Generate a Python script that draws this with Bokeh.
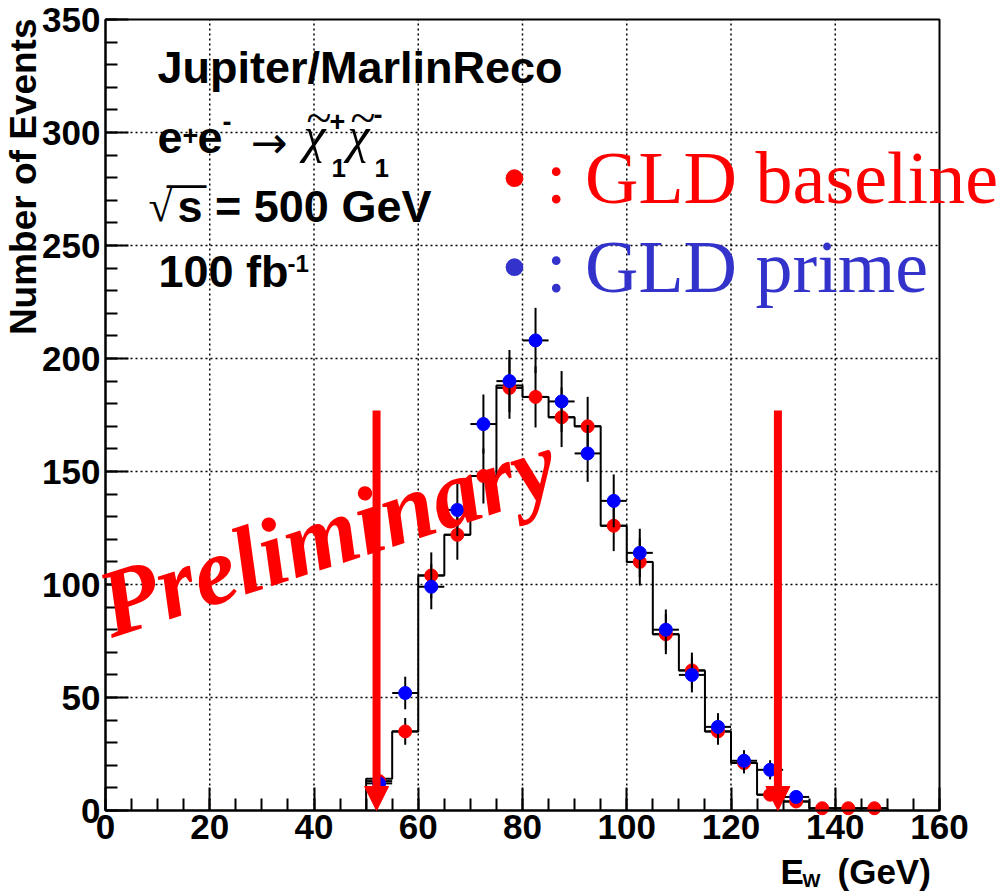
import numpy as np
from bokeh.plotting import figure
from bokeh.models import Label, Arrow, NormalHead, SingleIntervalTicker, Range1d, ColumnDataSource
from bokeh.embed import file_html
from bokeh.resources import INLINE

# ---------------- data ----------------
bin_edges = [50, 55, 60, 65, 70, 75, 80, 85, 90, 95, 100, 105, 110, 115, 120, 125, 130, 135, 140, 145, 150]
bin_centers = [52.5, 57.5, 62.5, 67.5, 72.5, 77.5, 82.5, 87.5, 92.5, 97.5, 102.5,
               107.5, 112.5, 117.5, 122.5, 127.5, 132.5, 137.5, 142.5, 147.5]
bin_half = 2.5
hist_counts = [14, 35, 104, 122, 148, 188, 183, 174, 170, 126, 110, 78, 62, 35, 21, 7, 4, 1, 1, 1]
baseline_counts = [13, 35, 104, 122, 148, 187, 183, 174, 170, 126, 110, 78, 62, 35, 21, 7, 4, 1, 1, 1]
prime_centers = [52.5, 57.5, 62.5, 67.5, 72.5, 77.5, 82.5, 87.5, 92.5, 97.5, 102.5,
                 107.5, 112.5, 117.5, 122.5, 127.5, 132.5]
prime_counts = [12, 52, 99, 133, 171, 190, 208, 181, 158, 137, 114, 80, 60, 37, 22, 18, 6]
cut_values = [52, 129]
cut_top = 177
x_lim = [0, 160]
y_lim = [0, 350]
x_grid_ticks = [20, 40, 60, 80, 100, 120, 140]
y_grid_ticks = [50, 100, 150, 200, 250, 300]

RED = "#FF0000"
BLUE = "#0000FF"
LEG_BLUE = "#3333CC"

W, H = 1004, 893
# reference frame placement (pixels): x 105..939, y 19..810
FL, FR, FT, FB = 105.0, 939.0, 19.0, 810.0
XS = (FR - FL) / (x_lim[1] - x_lim[0])
YS = (FB - FT) / (y_lim[1] - y_lim[0])
def dx(px):
    return x_lim[0] + (px - FL) / XS
def dy(py):
    return y_lim[0] + (FB - py) / YS

p = figure(width=W, height=H, x_range=Range1d(dx(0), dx(W)), y_range=Range1d(dy(H), dy(0)),
           output_backend="svg", toolbar_location=None,
           min_border_left=0, min_border_right=0, min_border_top=0, min_border_bottom=0)
p.background_fill_color = "white"
p.border_fill_color = "white"
p.outline_line_color = None
p.grid.visible = False

p.xaxis.ticker = SingleIntervalTicker(interval=20, num_minor_ticks=4)
p.yaxis.ticker = SingleIntervalTicker(interval=50, num_minor_ticks=5)
p.xaxis.fixed_location = y_lim[0]
p.yaxis.fixed_location = x_lim[0]
p.xaxis.bounds = tuple(x_lim)
p.yaxis.bounds = tuple(y_lim)
for ax in (p.xaxis, p.yaxis):
    ax.major_label_text_font = "Liberation Sans"
    ax.major_label_text_font_style = "bold"
    ax.major_label_text_font_size = "35px"
    ax.major_label_text_color = "black"
    ax.major_tick_in = 23
    ax.major_tick_out = 0
    ax.minor_tick_in = 12
    ax.minor_tick_out = 0
    ax.major_tick_line_width = 2
    ax.minor_tick_line_width = 2
    ax.axis_line_width = 2
    ax.major_tick_line_color = "black"
    ax.minor_tick_line_color = "black"
    ax.axis_line_color = "black"
p.xaxis.major_label_standoff = 4
p.yaxis.major_label_standoff = 5

# dotted grid
p.segment(x0=x_grid_ticks, y0=[y_lim[0]] * len(x_grid_ticks), x1=x_grid_ticks,
          y1=[y_lim[1]] * len(x_grid_ticks), line_color="black", line_width=1.5, line_dash="2 3")
p.segment(x0=[x_lim[0]] * len(y_grid_ticks), y0=y_grid_ticks, x1=[x_lim[1]] * len(y_grid_ticks),
          y1=y_grid_ticks, line_color="black", line_width=1.5, line_dash="2 3")
# frame box
p.quad(left=[x_lim[0]], right=[x_lim[1]], bottom=[y_lim[0]], top=[y_lim[1]],
       fill_color=None, line_color="black", line_width=2)

# histogram outline
step_x = [bin_edges[0]] + bin_edges + [bin_edges[-1]]
step_y = [0] + hist_counts + [hist_counts[-1], 0]
p.step(x=step_x, y=step_y, mode="after", line_color="black", line_width=2)

def draw_series(xc, vals, color):
    xc = np.array(xc, dtype=float)
    v = np.array(vals, dtype=float)
    err = np.sqrt(v)
    src = ColumnDataSource(dict(x=xc, y=v, ylo=v - err, yhi=v + err,
                                xlo=xc - bin_half, xhi=xc + bin_half))
    p.segment(x0="x", y0="ylo", x1="x", y1="yhi", source=src, line_color="black", line_width=2)
    p.segment(x0="xlo", y0="y", x1="xhi", y1="y", source=src, line_color="black", line_width=2)
    p.scatter(x="x", y="y", source=src, size=13, marker="circle",
              fill_color=color, line_color=color)

draw_series(bin_centers, baseline_counts, RED)
draw_series(prime_centers, prime_counts, BLUE)

K = 0.365  # baseline correction (fraction of font size)
def lab(text, px, py, size, font="Liberation Sans", style="bold", color="black",
        angle=0.0, align="left"):
    ax_ = px - K * size * np.sin(angle)
    ay_ = py - K * size * np.cos(angle)
    p.add_layout(Label(x=dx(ax_), y=dy(ay_), text=text, text_font=font,
                       text_font_style=style, text_font_size=f"{size}px",
                       text_color=color, angle=angle, text_align=align,
                       text_baseline="alphabetic"))

# Preliminary
lab("Preliminary", 112, 640, 96, font="Liberation Serif", style="bold italic",
    color=RED, angle=np.deg2rad(18))

# cut arrows
for c in cut_values:
    p.add_layout(Arrow(end=NormalHead(size=24, fill_color=RED, line_color=RED, line_width=1),
                       x_start=c, y_start=cut_top, x_end=c, y_end=0,
                       line_color=RED, line_width=8))

# text block
FS = 45
lab("Jupiter/MarlinReco", 157, 83, FS)
lab("e", 157, 153, FS)
lab("+", 182, 145, 27)
lab("e", 197, 153, FS)
lab("-", 222, 131, 27)
lab("\u2192", 250, 158, 44, font="DejaVu Sans", style="normal")
lab("\u03c7", 303, 153, 50, font="Liberation Serif", style="italic")
lab("~", 306, 134, 46, font="Liberation Serif", style="normal")
lab("+", 329, 131, 27)
lab("1", 331, 177, 26)
lab("\u03c7", 347, 153, 50, font="Liberation Serif", style="italic")
lab("~", 350, 134, 46, font="Liberation Serif", style="normal")
lab("-", 373, 124, 27)
lab("1", 374, 177, 26)
lab("\u221a", 148, 222, 44, font="Liberation Serif", style="normal")
lab("\u2014", 166, 197, 40, font="Liberation Sans", style="normal")
lab("s = 500 GeV", 177, 222, FS)
lab("100 fb", 158, 287, FS)
lab("-1", 287, 272, 24)

# legend
lab("\u2022 : GLD baseline", 501, 205, 74, font="Liberation Serif", style="normal", color=RED)
lab("\u2022 : GLD prime", 501, 294, 74, font="Liberation Serif", style="normal", color=LEG_BLUE)

# axis titles
lab("Number of Events", 37, 18, 37, angle=np.pi / 2, align="right")
lab("E", 780, 884, 35)
lab("W", 802, 887, 19)
lab("(GeV)", 837, 884, 35)

open("out.html", "w").write(file_html(p, INLINE))
